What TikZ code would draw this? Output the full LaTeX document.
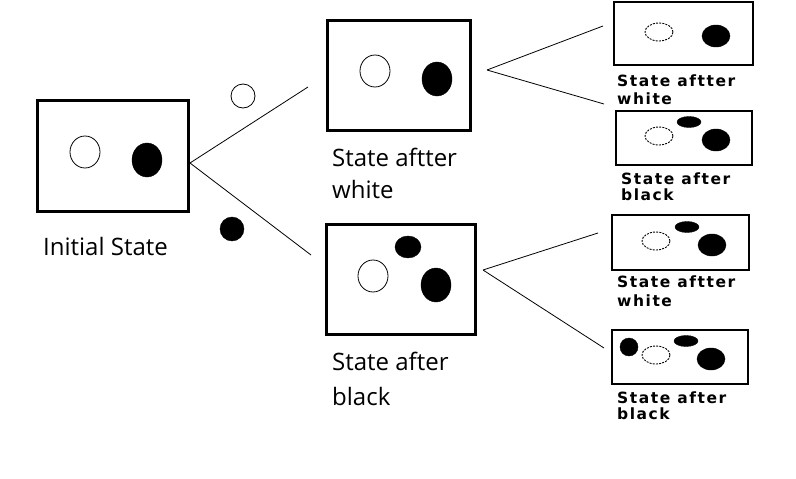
\documentclass[tikz,border=0pt]{standalone}
\usepackage{fontspec}
\setmainfont{Open Sans}
\newfontfamily\smallfont[LetterSpace=10]{DejaVu Sans Bold}
\usetikzlibrary{shapes.geometric}
\tikzset{
  bigbox/.style={draw, line width=3pt, minimum width=151pt, minimum height=111pt, inner sep=0pt},
  smallbox/.style={draw, line width=2.2pt, inner sep=0pt},
  wball/.style={draw, ellipse, line width=0.8pt, fill=white, inner sep=0pt},
  bball/.style={draw, ellipse, fill=black, inner sep=0pt},
  dball/.style={draw, ellipse, line width=0.9pt, dash pattern=on 2pt off 1.2pt, inner sep=0pt},
  conn/.style={line width=0.8pt},
  bigtext/.style={anchor=base west, inner sep=0pt, font=\fontsize{24}{24}\selectfont},
  smalltext/.style={anchor=base west, inner sep=0pt, font=\smallfont\fontsize{15.5}{15.5}\selectfont},
}
\begin{document}
\begin{tikzpicture}[x=1pt,y=-1pt]
\useasboundingbox (0,0) rectangle (796,479);
% initial
\node[bigbox] (init) at (112.5,155.5) {};
\node[wball, minimum width=30pt, minimum height=32pt] (iw) at (85,152) {};
\node[bball, minimum width=30pt, minimum height=34pt] (ib) at (147,160) {};
\node[bigtext] (initlbl) at (43,255) {Initial State};
% move markers
\node[wball, minimum width=24pt, minimum height=24pt] (mw) at (243,96) {};
\node[bball, minimum width=24pt, minimum height=24pt] (mb) at (232,229) {};
% connectors from initial
\coordinate (s0) at (190,163);
\coordinate (e1) at (308,87);
\coordinate (e2) at (311,255);
\draw[conn] (s0) -- (e1);
\draw[conn] (s0) -- (e2);
% top middle
\node[bigbox, minimum width=143pt, minimum height=110pt] (tw) at (398.5,75) {};
\node[wball, minimum width=30pt, minimum height=32pt] (tww) at (375,71) {};
\node[bball, minimum width=30pt, minimum height=34pt] (twb) at (437,79) {};
\node[bigtext] (twl1) at (332,166) {State aftter};
\node[bigtext] (twl2) at (332,198) {white};
% bottom middle
\node[bigbox, minimum width=149pt, minimum height=110pt] (bb) at (400.5,279) {};
\node[bball, minimum width=26pt, minimum height=22pt] (bbt) at (408,247) {};
\node[wball, minimum width=30pt, minimum height=32pt] (bbw) at (373,276) {};
\node[bball, minimum width=30pt, minimum height=34pt] (bbb) at (436,285) {};
\node[bigtext] (bbl1) at (332,370) {State after};
\node[bigtext] (bbl2) at (332,405) {black};
% connectors from middle boxes
\coordinate (s1) at (487,70);
\coordinate (e3) at (603,26);
\coordinate (e4) at (604,104);
\draw[conn] (s1) -- (e3);
\draw[conn] (s1) -- (e4);
\coordinate (s2) at (483,270);
\coordinate (e5) at (598,233);
\coordinate (e6) at (604,348);
\draw[conn] (s2) -- (e5);
\draw[conn] (s2) -- (e6);
% right box 1
\node[smallbox, minimum width=139pt, minimum height=63pt] (r1) at (683.5,33.5) {};
\node[dball, minimum width=28pt, minimum height=18pt] (r1w) at (659,32) {};
\node[bball, minimum width=28pt, minimum height=22pt] (r1b) at (716,36) {};
\node[smalltext] (r1l1) at (617,86) {State aftter};
\node[smalltext] (r1l2) at (617,104) {white};
% right box 2
\node[smallbox, minimum width=136pt, minimum height=54pt] (r2) at (684,138) {};
\node[bball, minimum width=24pt, minimum height=11pt] (r2s) at (689,122) {};
\node[dball, minimum width=28pt, minimum height=18pt] (r2w) at (659,136) {};
\node[bball, minimum width=28pt, minimum height=22pt] (r2b) at (716,140) {};
\node[smalltext] (r2l1) at (621,184) {State after};
\node[smalltext] (r2l2) at (621,200) {black};
% right box 3
\node[smallbox, minimum width=137pt, minimum height=55pt] (r3) at (680.5,242.5) {};
\node[bball, minimum width=24pt, minimum height=11pt] (r3s) at (687,227) {};
\node[dball, minimum width=28pt, minimum height=18pt] (r3w) at (656,241) {};
\node[bball, minimum width=28pt, minimum height=22pt] (r3b) at (712,245) {};
\node[smalltext] (r3l1) at (617,287) {State aftter};
\node[smalltext] (r3l2) at (617,306) {white};
% right box 4
\node[smallbox, minimum width=136pt, minimum height=54pt] (r4) at (680,357) {};
\node[bball, minimum width=18pt, minimum height=18pt] (r4k) at (629,347) {};
\node[dball, minimum width=28pt, minimum height=18pt] (r4w) at (656,355) {};
\node[bball, minimum width=24pt, minimum height=11pt] (r4s) at (686,341) {};
\node[bball, minimum width=28pt, minimum height=22pt] (r4b) at (711,359) {};
\node[smalltext] (r4l1) at (617,403) {State after};
\node[smalltext] (r4l2) at (617,419) {black};
\end{tikzpicture}
\end{document}
